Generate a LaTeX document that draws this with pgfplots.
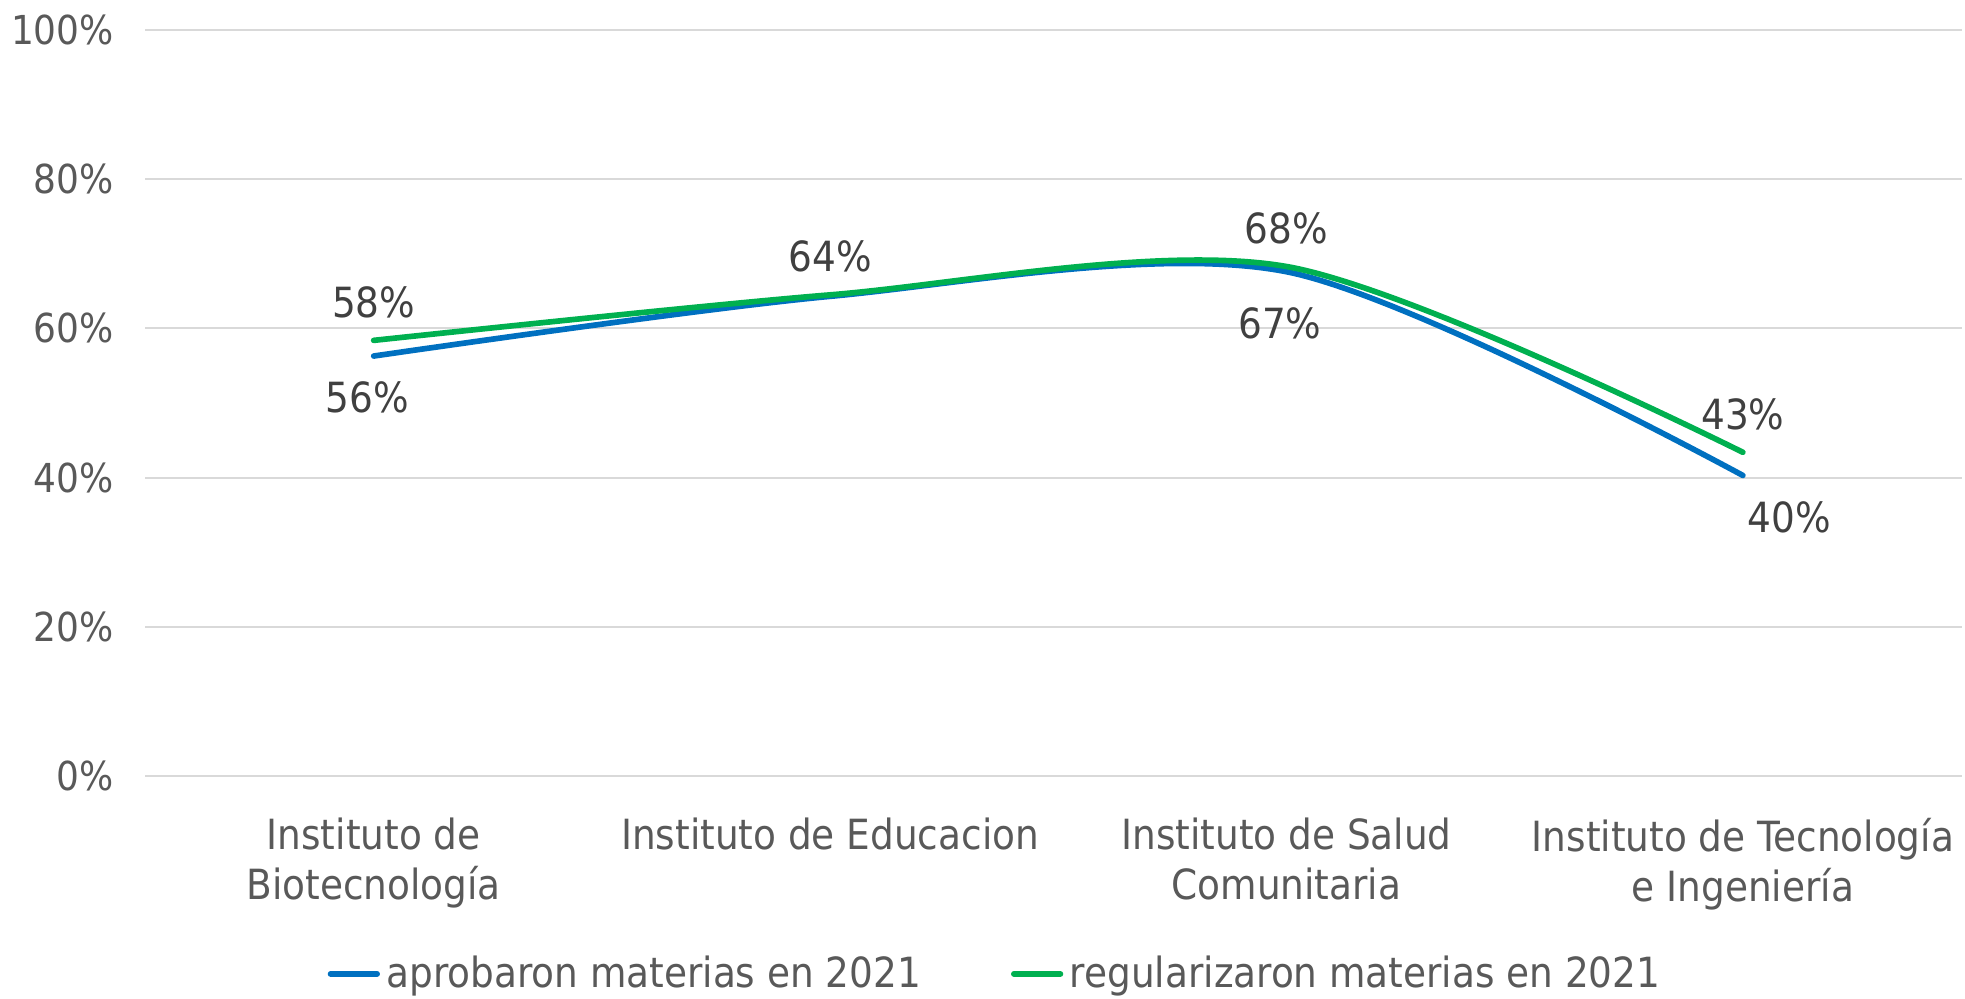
\documentclass[border=0pt]{standalone}
\usepackage{pgfplots}
\pgfplotsset{compat=1.18}
\usepackage{pgfplotstable}
\usepackage{fontspec}
\setmainfont{DejaVu Sans Condensed}

\definecolor{azul}{HTML}{0070C0}
\definecolor{verde}{HTML}{00B050}
\definecolor{grilla}{HTML}{D9D9D9}
\definecolor{texto}{HTML}{595959}
\definecolor{etiq}{HTML}{404040}

\pgfplotstableread{
x y lab
0 56.3 56\%
1 64.3 {}
2 67.6 67\%
3 40.3 40\%
}\aprobaron

\pgfplotstableread{
x y lab
0 58.4 58\%
1 64.5 64\%
2 68.3 68\%
3 43.4 43\%
}\regularizaron

\begin{document}
\begin{tikzpicture}
\begin{axis}[
    scale only axis,
    width=546pt,
    height=224.3pt,
    xmin=-0.5, xmax=3.48,
    ymin=0, ymax=100,
    xtick={0,1,2,3},
    xticklabels={Instituto de\\Biotecnología, Instituto de Educacion, Instituto de Salud\\Comunitaria, Instituto de Tecnología\\e Ingeniería},
    x tick label style={align=center, font=\fontsize{12.5}{15}\selectfont, text=texto},
    ytick={0,20,...,100},
    yticklabel={\pgfmathprintnumber{\tick}\%},
    y tick label style={font=\fontsize{12}{15}\selectfont, text=texto},
    /pgf/number format/assume math mode=true,
    ymajorgrids,
    grid style={grilla, line width=0.6pt},
    axis line style={draw=none},
    tick style={draw=none},
    xticklabel style={yshift=-9pt},
    yticklabel style={xshift=-6pt},
    legend columns=2,
    legend style={at={(0.469,-0.265)}, anchor=center, draw=none, fill=none,
        inner sep=0pt, outer sep=0pt,
        font=\fontsize{12.5}{15}\selectfont, text=texto,
        /tikz/every even column/.append style={column sep=25pt}},
    legend image code/.code={\draw[#1, line cap=round] (0pt,0pt) -- (14pt,0pt);},
    legend cell align=left,
    nodes near coords,
    point meta=explicit symbolic,
    every node near coord/.append style={font=\fontsize{12.5}{15}\selectfont, text=etiq, anchor=center},
    extra description/.code={
        \path (rel axis cs:0,1) ++(0pt,9pt);
        \path (rel axis cs:0,0) ++(0pt,-65pt);
    },
]
\addplot[azul, line width=1.7pt, smooth, tension=0.5, line cap=round,
    every node near coord/.append style={yshift=-12.5pt},
    coordinate style/.condition={\coordindex==0}{xshift=-2pt},
    coordinate style/.condition={\coordindex==2}{xshift=-2pt, yshift=-3pt},
    coordinate style/.condition={\coordindex==3}{xshift=14pt}]
    table[x=x, y=y, meta=lab] {\aprobaron};
\addlegendentry{aprobaron materias en 2021}
\addplot[verde, line width=1.7pt, smooth, tension=0.5, line cap=round,
    every node near coord/.append style={yshift=11.5pt}]
    table[x=x, y=y, meta=lab] {\regularizaron};
\addlegendentry{regularizaron materias en 2021}
\end{axis}
\end{tikzpicture}
\end{document}
